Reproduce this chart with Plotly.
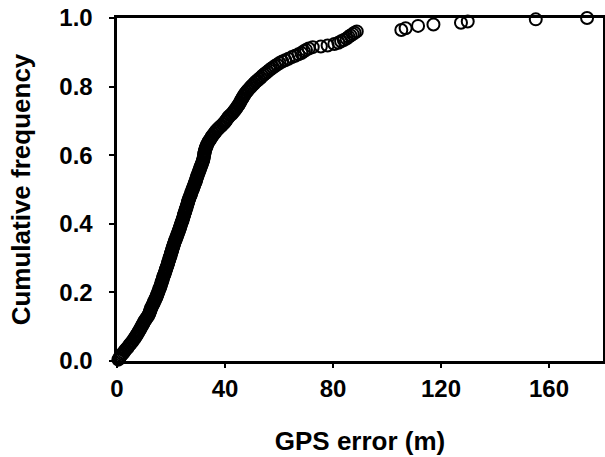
import plotly.graph_objects as go

# Sorted GPS errors (m) and their cumulative frequency
gps_error = [
    0.5, 0.9, 1.2, 1.6, 2.0, 2.5, 2.9, 3.3, 3.8, 4.2, 4.6, 5.1, 5.5, 5.9, 6.3, 6.7, 7.0, 7.3, 7.7, 8.0,
    8.3, 8.6, 8.9, 9.2, 9.5, 9.8, 10.1, 10.4,
    10.8, 11.1, 11.5, 11.8, 12.0, 12.2, 12.4, 12.6, 12.8,
    13.1, 13.3, 13.6, 13.8, 14.1, 14.3, 14.6, 14.8, 15.0, 15.2, 15.4, 15.6, 15.8, 16.0,
    16.2, 16.4, 16.5, 16.7, 16.9, 17.0, 17.2, 17.4, 17.6, 17.8, 18.0, 18.1, 18.3, 18.5, 18.7, 18.9,
    19.0, 19.2, 19.4, 19.5, 19.7, 19.9, 20.0, 20.2, 20.4, 20.5, 20.7, 20.9, 21.0, 21.2, 21.4, 21.6,
    21.8, 22.0, 22.2, 22.4, 22.6, 22.8, 23.0, 23.2, 23.4, 23.5, 23.7, 23.9,
    24.1, 24.3, 24.4, 24.6, 24.8, 24.9, 25.1, 25.3, 25.4, 25.6, 25.8, 25.9, 26.1, 26.3, 26.4, 26.6,
    26.8, 27.0, 27.2, 27.4, 27.6, 27.8, 28.0, 28.2, 28.4, 28.6, 28.8, 29.0, 29.2, 29.4, 29.5, 29.7, 29.9, 30.1,
    30.3, 30.5, 30.7, 30.9, 31.1, 31.3, 31.5, 31.7, 31.9, 32.0, 32.1, 32.2, 32.3, 32.4, 32.5, 32.6, 32.8, 33.0, 33.2, 33.4, 33.7,
    34.0, 34.3, 34.7, 35.0, 35.4, 35.8, 36.2, 36.6, 37.1, 37.6, 38.1, 38.7, 39.3, 39.8, 40.2, 40.6, 41.0, 41.4,
    41.9, 42.5, 43.0, 43.4, 43.8, 44.2, 44.6, 45.0, 45.3, 45.6, 45.9, 46.2, 46.5, 46.8, 47.1, 47.5, 47.9, 48.3,
    48.8, 49.3, 49.8, 50.3, 50.8, 51.4, 52.0, 52.6, 53.2, 53.8, 54.4, 55.0, 55.7, 56.4, 57.1, 57.8, 58.5,
    59.3, 60.2, 61.2, 62.3, 63.5, 64.8, 66.0, 67.2, 68.3, 69.2, 70.0,
    71.0, 72.5, 75.5, 78.0, 80.5, 82.0, 83.0, 84.0, 85.0, 85.8, 86.5, 87.3, 88.0, 88.8,
    105.3, 106.9, 111.5, 117.2, 127.4, 129.9, 155.1, 174.1,
]
cum_freq = [
    0.004, 0.008, 0.013, 0.017, 0.021, 0.025, 0.030, 0.034, 0.038, 0.042, 0.047, 0.051, 0.055, 0.059, 0.064, 0.068, 0.072, 0.076, 0.081, 0.085,
    0.089, 0.093, 0.098, 0.102, 0.106, 0.110, 0.115, 0.119,
    0.123, 0.127, 0.131, 0.136, 0.140, 0.144, 0.148, 0.153, 0.157,
    0.161, 0.165, 0.169, 0.174, 0.178, 0.182, 0.186, 0.191, 0.195, 0.199, 0.203, 0.208, 0.212, 0.216,
    0.220, 0.225, 0.229, 0.233, 0.237, 0.242, 0.246, 0.250, 0.254, 0.258, 0.263, 0.267, 0.271, 0.275, 0.280, 0.284,
    0.288, 0.292, 0.297, 0.301, 0.305, 0.309, 0.314, 0.318, 0.322, 0.326, 0.331, 0.335, 0.339, 0.343, 0.348, 0.352,
    0.356, 0.360, 0.364, 0.369, 0.373, 0.377, 0.381, 0.386, 0.390, 0.394, 0.398, 0.403,
    0.407, 0.411, 0.415, 0.420, 0.424, 0.428, 0.432, 0.436, 0.441, 0.445, 0.449, 0.453, 0.458, 0.462, 0.466, 0.470,
    0.475, 0.479, 0.483, 0.487, 0.492, 0.496, 0.500, 0.504, 0.509, 0.513, 0.517, 0.521, 0.525, 0.530, 0.534, 0.538, 0.542, 0.547,
    0.551, 0.555, 0.559, 0.564, 0.568, 0.572, 0.576, 0.581, 0.585, 0.589, 0.593, 0.598, 0.602, 0.606, 0.610, 0.614, 0.619, 0.623, 0.627, 0.631, 0.636,
    0.640, 0.644, 0.648, 0.653, 0.657, 0.661, 0.665, 0.670, 0.674, 0.678, 0.682, 0.686, 0.691, 0.695, 0.699, 0.703, 0.708, 0.712,
    0.716, 0.720, 0.725, 0.729, 0.733, 0.737, 0.742, 0.746, 0.750, 0.754, 0.759, 0.763, 0.767, 0.771, 0.775, 0.780, 0.784, 0.788,
    0.792, 0.797, 0.801, 0.805, 0.809, 0.814, 0.818, 0.822, 0.826, 0.831, 0.835, 0.839, 0.843, 0.848, 0.852, 0.856, 0.860,
    0.864, 0.869, 0.873, 0.877, 0.881, 0.886, 0.890, 0.894, 0.898, 0.903, 0.907,
    0.911, 0.915, 0.917, 0.920, 0.924, 0.928, 0.932, 0.936, 0.940, 0.945, 0.949, 0.953, 0.957, 0.961,
    0.965, 0.970, 0.977, 0.981, 0.986, 0.990, 0.996, 1.000,
]

x_ticks = [0, 40, 80, 120, 160]
y_ticks = [0.0, 0.2, 0.4, 0.6, 0.8, 1.0]
y_tick_labels = ["0.0", "0.2", "0.4", "0.6", "0.8", "1.0"]

FONT = "Liberation Sans, Arial, sans-serif"
PAD = "\u00a0\u2009"  # small gap between y tick labels and the tick marks

fig = go.Figure()
fig.add_trace(go.Scatter(
    x=gps_error, y=cum_freq, mode="markers", cliponaxis=False,
    marker=dict(symbol="circle-open", size=12, color="black", line=dict(width=2, color="black")),
    showlegend=False,
))

fig.update_layout(
    width=605, height=457,
    margin=dict(l=117, r=2, t=18, b=96),
    paper_bgcolor="white", plot_bgcolor="white",
    font=dict(family=FONT, size=24, color="black"),
)
fig.update_xaxes(
    range=[0, 180], tickvals=x_ticks, ticktext=[str(v) for v in x_ticks],
    automargin=False,
    showgrid=False, zeroline=False, showline=True, linecolor="black", linewidth=3, mirror=True,
    ticks="outside", ticklen=4, tickwidth=2, tickcolor="black", ticklabeloverflow="allow",
    tickfont=dict(family=FONT, size=24, color="black", weight="bold"),
    title=dict(text="<b>GPS error (m)</b>", font=dict(family=FONT, size=26, color="black"), standoff=32),
)
fig.update_yaxes(
    range=[0, 1], tickvals=y_ticks, ticktext=[t + PAD for t in y_tick_labels],
    automargin=False,
    showgrid=False, zeroline=False, showline=True, linecolor="black", linewidth=3, mirror=True,
    ticks="outside", ticklen=5, tickwidth=2, tickcolor="black", ticklabeloverflow="allow",
    tickfont=dict(family=FONT, size=24, color="black", weight="bold"),
    title=dict(text="<b>Cumulative frequency</b>", font=dict(family=FONT, size=26, color="black"), standoff=22),
)

fig.write_html(
    "out.html",
    config={"displayModeBar": False},
    post_script="document.body.style.margin='0';document.body.style.overflow='hidden';",
)
